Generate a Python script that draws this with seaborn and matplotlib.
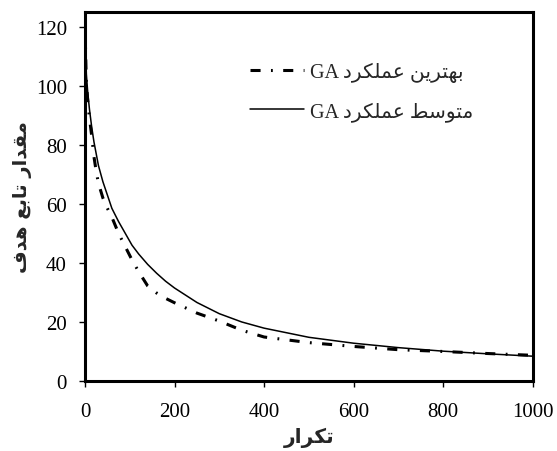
import matplotlib
matplotlib.use("Agg")
import matplotlib.pyplot as plt
import seaborn as sns

# iteration grid and the two curves
iterations = [0, 3, 6, 10, 15, 20, 25, 30, 40, 50, 60, 75, 90, 105, 120, 140, 160, 180, 200,
              250, 300, 350, 400, 500, 600, 700, 800, 900, 1000]
best_fitness = [120, 101, 95, 89, 83, 76, 71, 67, 62, 58.5, 55.5, 50, 45.5, 41, 37, 32.2, 29.8, 28, 26.5,
                23, 20.3, 17.2, 14.9, 13, 11.7, 10.6, 10, 9.3, 8.7]
mean_fitness = [120, 104, 98, 92, 86, 81, 77, 73, 67.5, 63, 58.5, 54, 50, 46, 43, 39.5, 36.5, 33.8, 31.5,
                26.6, 22.8, 20, 17.9, 14.8, 12.8, 11.3, 10.1, 9.2, 8.4]

x_ticks = [0, 200, 400, 600, 800, 1000]
y_ticks = [0, 20, 40, 60, 80, 100, 120]

x_label = "تکرار"
y_label = "مقدار تابع هدف"
best_label = "بهترین عملکرد"
mean_label = "متوسط عملکرد"

# matplotlib has no arabic shaping, so pick presentation forms by hand
FORMS = {
    'ا': ('\uFE8D', '\uFE8E', None, None),
    'ب': ('\uFE8F', '\uFE90', '\uFE91', '\uFE92'),
    'ت': ('\uFE95', '\uFE96', '\uFE97', '\uFE98'),
    'د': ('\uFEA9', '\uFEAA', None, None),
    'ر': ('\uFEAD', '\uFEAE', None, None),
    'س': ('\uFEB1', '\uFEB2', '\uFEB3', '\uFEB4'),
    'ط': ('\uFEC1', '\uFEC2', '\uFEC3', '\uFEC4'),
    'ع': ('\uFEC9', '\uFECA', '\uFECB', '\uFECC'),
    'ف': ('\uFED1', '\uFED2', '\uFED3', '\uFED4'),
    'ق': ('\uFED5', '\uFED6', '\uFED7', '\uFED8'),
    'ل': ('\uFEDD', '\uFEDE', '\uFEDF', '\uFEE0'),
    'م': ('\uFEE1', '\uFEE2', '\uFEE3', '\uFEE4'),
    'ن': ('\uFEE5', '\uFEE6', '\uFEE7', '\uFEE8'),
    'ه': ('\uFEE9', '\uFEEA', '\uFEEB', '\uFEEC'),
    'و': ('\uFEED', '\uFEEE', None, None),
    'ک': ('\uFB8E', '\uFB8F', '\uFB90', '\uFB91'),
    'ی': ('\uFBFC', '\uFBFD', '\uFBFE', '\uFBFF'),
}


def shape(text):
    out = []
    for i, c in enumerate(text):
        if c not in FORMS:
            out.append(c)
            continue
        iso, fin, ini, med = FORMS[c]
        prev = text[i - 1] if i > 0 else None
        nxt = text[i + 1] if i + 1 < len(text) else None
        join_prev = prev in FORMS and FORMS[prev][2] is not None
        join_next = ini is not None and nxt in FORMS
        if join_prev and join_next:
            out.append(med)
        elif join_prev:
            out.append(fin)
        elif join_next:
            out.append(ini)
        else:
            out.append(iso)
    return ''.join(out)[::-1]


sns.set_style("white")
plt.rcParams['font.family'] = ['Liberation Serif', 'DejaVu Sans']

fig = plt.figure(figsize=(5.57, 4.52), dpi=100)
ax = fig.add_axes([0.1526, 0.1549, 0.8038, 0.8163])

sns.lineplot(x=iterations, y=best_fitness, ax=ax, color='black', lw=2.2,
             linestyle=(0, (3.3, 3.4, 0.6, 3.4)), label="GA " + shape(best_label))
sns.lineplot(x=iterations, y=mean_fitness, ax=ax, color='black', lw=1.1,
             label="GA " + shape(mean_label))

ax.set_xlim(0, 1000)
ax.set_ylim(0, 125)
ax.set_xticks(x_ticks)
ax.set_yticks(y_ticks)
ax.tick_params(axis='both', direction='out', length=4, width=1, labelsize=15,
               color='black', labelcolor='black', left=True, bottom=True)
ax.tick_params(axis='y', pad=9)
ax.tick_params(axis='x', pad=11)

for sp in ax.spines.values():
    sp.set_linewidth(2.2)
    sp.set_color('black')

ax.set_xlabel(shape(x_label), fontsize=14.5, fontweight='bold', family='DejaVu Sans', labelpad=4)
ax.set_ylabel(shape(y_label), fontsize=14, fontweight='bold', family='DejaVu Sans', labelpad=3)

ax.legend(loc='upper left', bbox_to_anchor=(0.35, 0.886), frameon=False, fontsize=14.5,
          handlelength=2.7, handletextpad=0.3, labelspacing=0.95, borderaxespad=0)

fig.savefig("out.png", dpi=100)
